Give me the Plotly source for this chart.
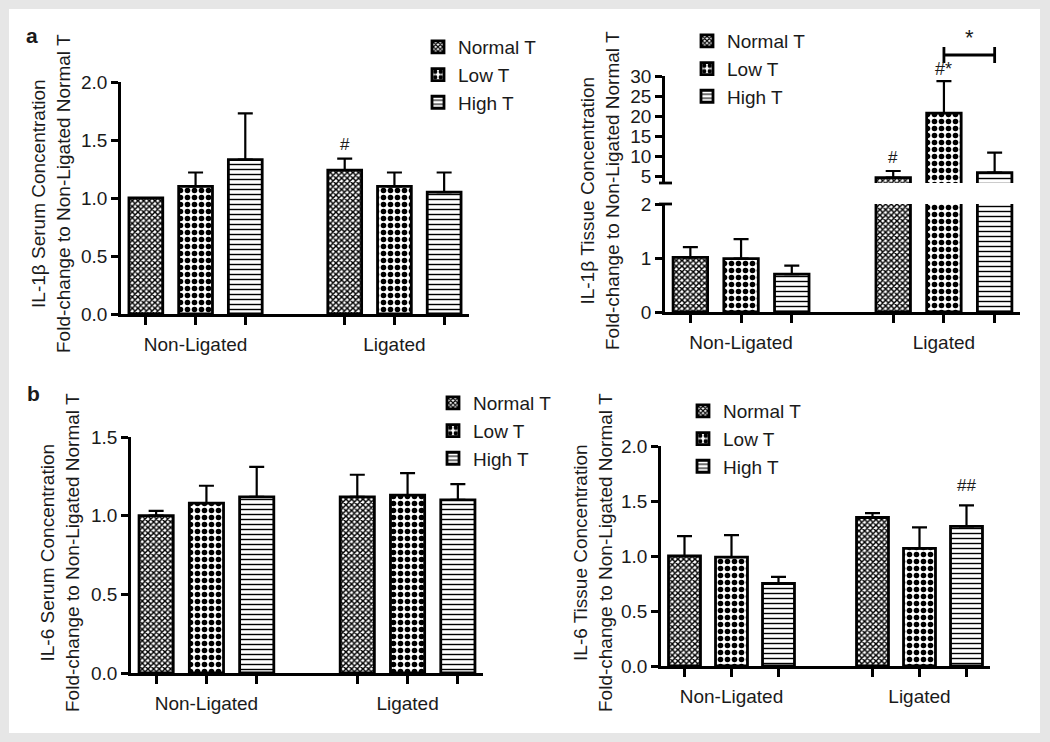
import plotly.graph_objects as go

# ---------------- data ----------------
groups = ["Non-Ligated", "Ligated"]
series = ["Normal T", "Low T", "High T"]

# Panel a (left): IL-1beta serum
il1b_serum_normal = [1.00, 1.24]
il1b_serum_normal_err = [0.00, 0.10]
il1b_serum_low = [1.10, 1.10]
il1b_serum_low_err = [0.12, 0.12]
il1b_serum_high = [1.33, 1.05]
il1b_serum_high_err = [0.40, 0.17]

# Panel a (right): IL-1beta tissue (broken axis)
il1b_tissue_normal = [1.01, 4.6]
il1b_tissue_normal_err = [0.19, 1.65]
il1b_tissue_low = [0.99, 20.7]
il1b_tissue_low_err = [0.36, 8.0]
il1b_tissue_high = [0.70, 5.85]
il1b_tissue_high_err = [0.16, 5.0]

# Panel b (left): IL-6 serum
il6_serum_normal = [1.00, 1.12]
il6_serum_normal_err = [0.03, 0.14]
il6_serum_low = [1.08, 1.13]
il6_serum_low_err = [0.11, 0.14]
il6_serum_high = [1.12, 1.10]
il6_serum_high_err = [0.19, 0.10]

# Panel b (right): IL-6 tissue
il6_tissue_normal = [1.00, 1.35]
il6_tissue_normal_err = [0.18, 0.04]
il6_tissue_low = [0.99, 1.07]
il6_tissue_low_err = [0.20, 0.19]
il6_tissue_high = [0.75, 1.27]
il6_tissue_high_err = [0.06, 0.19]

y_titles = [
    "IL-1β Serum Concentration<br>Fold-change to Non-Ligated Normal T",
    "IL-1β Tissue Concentration<br>Fold-change to Non-Ligated Normal T",
    "IL-6 Serum Concentration<br>Fold-change to Non-Ligated Normal T",
    "IL-6 Tissue Concentration<br>Fold-change to Non-Ligated Normal T",
]

# ---------------- style ----------------
W, H = 1050, 742
FONT = "Liberation Sans, Arial, Helvetica, sans-serif"
INK = "#1a1a1a"
patterns = {
    "Normal T": dict(shape="x", size=4, solidity=0.6, fgcolor="black", bgcolor="white", fgopacity=1),
    "Low T": dict(shape=".", size=7, solidity=0.5, fgcolor="black", bgcolor="white", fgopacity=1),
    "High T": dict(shape="-", size=5, solidity=0.28, fgcolor="black", bgcolor="white", fgopacity=1),
}

def px_x(p):
    return p / W

def px_y(p):
    return 1 - p / H

fig = go.Figure()

def positions(si):
    return [gi * 4 + si for gi in range(len(groups))]

def add_panel(xa, ya, legend, means, errs, show_legend=True, only=None):
    for si, name in enumerate(series):
        m = means[si]
        e = errs[si]
        if only is not None:
            e = [ev if only(mv) else None for mv, ev in zip(m, e)]
        fig.add_trace(go.Bar(
            x=positions(si), y=m, name=name, width=0.68,
            xaxis=xa, yaxis=ya, legend=legend, showlegend=show_legend,
            marker=dict(color="white", line=dict(color="black", width=2.8),
                        pattern=patterns[name]),
            error_y=dict(type="data", symmetric=False, array=e,
                         arrayminus=[0] * len(m), color="black",
                         thickness=2.2, width=7.5),
            hoverinfo="skip",
        ))

add_panel("x", "y", "legend",
          [il1b_serum_normal, il1b_serum_low, il1b_serum_high],
          [il1b_serum_normal_err, il1b_serum_low_err, il1b_serum_high_err])

lower_max, upper_min = 2.0, 3.25
add_panel("x2", "y2", "legend2",
          [il1b_tissue_normal, il1b_tissue_low, il1b_tissue_high],
          [il1b_tissue_normal_err, il1b_tissue_low_err, il1b_tissue_high_err],
          show_legend=True, only=lambda v: v <= lower_max)
add_panel("x2", "y5", "legend2",
          [il1b_tissue_normal, il1b_tissue_low, il1b_tissue_high],
          [il1b_tissue_normal_err, il1b_tissue_low_err, il1b_tissue_high_err],
          show_legend=False, only=lambda v: v > upper_min)

add_panel("x3", "y3", "legend3",
          [il6_serum_normal, il6_serum_low, il6_serum_high],
          [il6_serum_normal_err, il6_serum_low_err, il6_serum_high_err])
add_panel("x4", "y4", "legend4",
          [il6_tissue_normal, il6_tissue_low, il6_tissue_high],
          [il6_tissue_normal_err, il6_tissue_low_err, il6_tissue_high_err])

tickvals = [gi * 4 + si for gi in range(len(groups)) for si in range(len(series))]
ticktext = [g if si == 1 else "" for g in groups for si in range(len(series))]

def xaxis(domain, anchor):
    return dict(domain=domain, anchor=anchor, range=[-0.5, 6.5], automargin=False,
                showline=True, linecolor="black", linewidth=2.8,
                ticks="outside", ticklen=8, tickwidth=2.5, tickcolor="black",
                tickvals=tickvals, ticktext=ticktext, ticklabelstandoff=3,
                tickfont=dict(size=19, color=INK, family=FONT),
                showgrid=False, zeroline=False, fixedrange=True)

def yaxis(domain, anchor, rng, dtick, fmt):
    return dict(domain=domain, anchor=anchor, range=rng, dtick=dtick, tick0=0,
                automargin=False,
                tickformat=fmt, showline=True, linecolor="black", linewidth=2.8,
                ticks="outside", ticklen=7, tickwidth=2.5, tickcolor="black",
                tickfont=dict(size=19, color=INK, family=FONT),
                showgrid=False, zeroline=False, fixedrange=True)

dA_x = [px_x(121), px_x(469)]
dA_y = [px_y(314), px_y(82)]
dB_x = [px_x(665), px_x(1020)]
dB_lo = [px_y(312), px_y(204)]
dB_hi = [px_y(183), px_y(76)]
dC_x = [px_x(131), px_x(483)]
dC_y = [px_y(673), px_y(437)]
dD_x = [px_x(661), px_x(990)]
dD_y = [px_y(666), px_y(446)]

upper_y = yaxis(dB_hi, "x2", [upper_min, 30.0], 5, "d")
upper_y["tick0"] = 5

fig.update_layout(
    template="none",
    width=W, height=H,
    margin=dict(l=0, r=0, t=0, b=0, pad=0),
    paper_bgcolor="#e6e6e6", plot_bgcolor="rgba(0,0,0,0)",
    font=dict(family=FONT, color=INK, size=19),
    barmode="overlay",
    xaxis=xaxis(dA_x, "y"),
    yaxis=yaxis(dA_y, "x", [0, 2.0], 0.5, ".1f"),
    xaxis2=xaxis(dB_x, "y2"),
    yaxis2=yaxis(dB_lo, "x2", [0, lower_max], 1, "d"),
    yaxis5=upper_y,
    xaxis3=xaxis(dC_x, "y3"),
    yaxis3=yaxis(dC_y, "x3", [0, 1.5], 0.5, ".1f"),
    xaxis4=xaxis(dD_x, "y4"),
    yaxis4=yaxis(dD_y, "x4", [0, 2.0], 0.5, ".1f"),
)

def legend_cfg(xp, yp):
    return dict(x=px_x(xp), y=px_y(yp), xanchor="left", yanchor="top",
                bgcolor="rgba(0,0,0,0)", tracegroupgap=0, itemwidth=30,
                font=dict(size=19, color=INK, family=FONT), itemclick=False)

fig.update_layout(
    legend=legend_cfg(418, 28),
    legend2=legend_cfg(687, 22),
    legend3=legend_cfg(433, 384),
    legend4=legend_cfg(683, 392),
)

# white panel background
fig.add_shape(type="rect", xref="paper", yref="paper",
              x0=px_x(9), x1=px_x(1040), y0=px_y(733), y1=px_y(9),
              fillcolor="white", line=dict(width=0), layer="below")

# axis break caps
for yy in (204, 183):
    fig.add_shape(type="line", xref="paper", yref="paper",
                  x0=px_x(659), x1=px_x(672), y0=px_y(yy), y1=px_y(yy),
                  line=dict(color="black", width=2.8))

# y-axis titles
title_pos = [(51, 194), (600, 191), (60, 553), (593, 553)]
for t, (xp, yp) in zip(y_titles, title_pos):
    fig.add_annotation(text=t, x=px_x(xp), y=px_y(yp), xref="paper", yref="paper",
                       textangle=-90, showarrow=False, xanchor="center", yanchor="middle",
                       font=dict(size=19, color=INK, family=FONT))

# panel letters
for letter, (xp, yp) in zip(["a", "b"], [(32, 36), (33, 393)]):
    fig.add_annotation(text="<b>%s</b>" % letter, x=px_x(xp), y=px_y(yp),
                       xref="paper", yref="paper", showarrow=False,
                       xanchor="center", yanchor="middle",
                       font=dict(size=21, color=INK, family=FONT))

# significance marks
def mark(text, xa, ya, gi, si, means, errs, shift, size=17):
    fig.add_annotation(text=text, x=positions(si)[gi], y=means[gi] + errs[gi],
                       xref=xa, yref=ya, showarrow=False, yanchor="bottom",
                       xanchor="center", yshift=shift,
                       font=dict(size=size, color=INK, family=FONT))

mark("#", "x", "y", 1, 0, il1b_serum_normal, il1b_serum_normal_err, 3)
mark("#", "x2", "y5", 1, 0, il1b_tissue_normal, il1b_tissue_normal_err, 2)
mark("#*", "x2", "y5", 1, 1, il1b_tissue_low, il1b_tissue_low_err, 0, size=18)
mark("##", "x4", "y4", 1, 2, il6_tissue_high, il6_tissue_high_err, 8)

# bracket Low T vs High T (ligated, tissue IL-1b)
bx0, bx1 = positions(1)[1], positions(2)[1]
fig.add_shape(type="line", xref="x2", yref="paper", x0=bx0, x1=bx1,
              y0=px_y(55), y1=px_y(55), line=dict(color="black", width=2.8))
for bx in (bx0, bx1):
    fig.add_shape(type="line", xref="x2", yref="paper", x0=bx, x1=bx,
                  y0=px_y(47), y1=px_y(63), line=dict(color="black", width=2.8))
fig.add_annotation(text="*", x=(bx0 + bx1) / 2, y=px_y(52), xref="x2", yref="paper",
                   showarrow=False, yanchor="bottom", xanchor="center",
                   font=dict(size=22, color=INK, family=FONT))

# remove the browser's default page margin so the figure sits at (0, 0)
fig.write_html("out.html", config={"displayModeBar": False},
               post_script="document.body.style.margin='0';")
